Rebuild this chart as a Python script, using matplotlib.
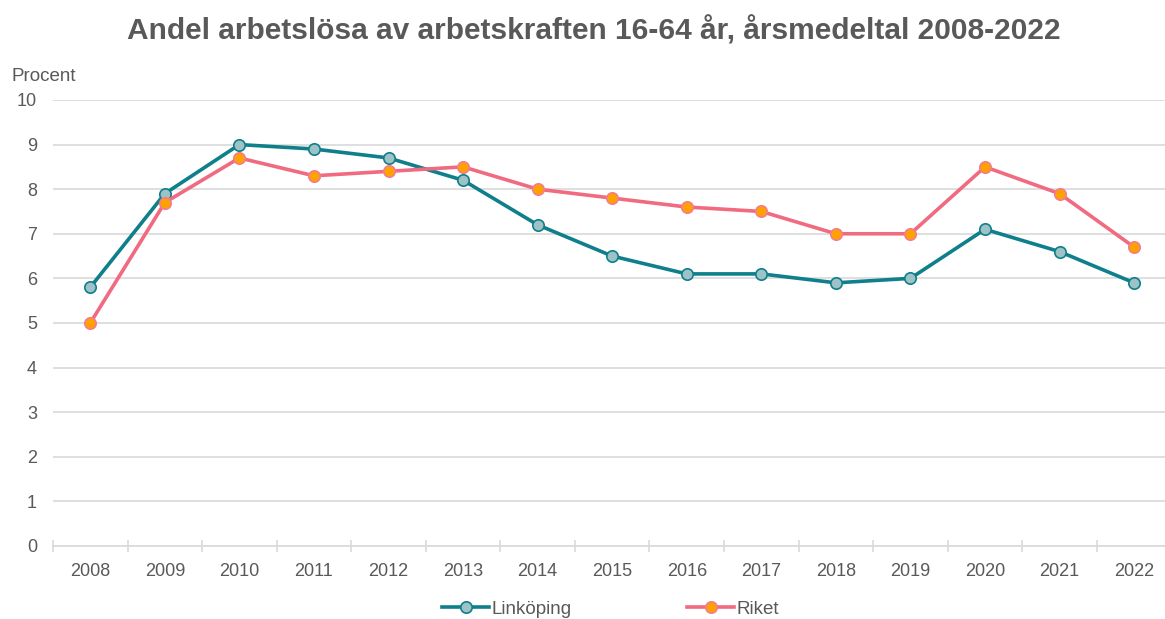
import numpy as np
import matplotlib.pyplot as plt
from matplotlib.ticker import MultipleLocator, FixedLocator

plt.rcParams['font.family'] = ['Liberation Sans', 'DejaVu Sans']

# Data
years = ['2008', '2009', '2010', '2011', '2012', '2013', '2014', '2015',
         '2016', '2017', '2018', '2019', '2020', '2021', '2022']
linkoping = [5.8, 7.9, 9.0, 8.9, 8.7, 8.2, 7.2, 6.5, 6.1, 6.1, 5.9, 6.0, 7.1, 6.6, 5.9]
riket = [5.0, 7.7, 8.7, 8.3, 8.4, 8.5, 8.0, 7.8, 7.6, 7.5, 7.0, 7.0, 8.5, 7.9, 6.7]

txt = '#595959'
grid = '#D9D9D9'

fig = plt.figure(figsize=(11.65, 6.19), dpi=100)
ax = fig.add_axes([0.0455, 0.118, 0.96, 0.7205])

x = np.arange(len(years))
ax.plot(x, linkoping, color='#0E7F8B', lw=2.6, marker='o', ms=8.2,
        mfc='#9DC3C7', mec='#0E7F8B', mew=1.2, label='Linköping', zorder=3)
ax.plot(x, riket, color='#F06A80', lw=2.6, marker='o', ms=8.2,
        mfc='#FFA200', mec='#F27D8E', mew=1.2, label='Riket', zorder=3)

ax.set_xlim(-0.5, len(years) - 0.5)
ax.set_ylim(0, 10)
ax.yaxis.set_major_locator(MultipleLocator(1))
ax.grid(axis='y', color=grid, lw=1.2)
ax.set_axisbelow(True)
for s in ['top', 'right', 'left']:
    ax.spines[s].set_visible(False)
ax.spines['bottom'].set_color(grid)
ax.spines['bottom'].set_linewidth(1.2)

ax.set_xticks(x)
ax.set_xticklabels(years)
ax.xaxis.set_minor_locator(FixedLocator(np.arange(-0.5, len(years), 1.0)))
ax.tick_params(axis='x', which='major', length=0, pad=12, labelsize=13, labelcolor=txt)
ax.tick_params(axis='x', which='minor', direction='inout', length=9, width=1.2, color=grid)
ax.tick_params(axis='y', length=0, pad=11.5, labelsize=13, labelcolor=txt)

fig.text(0.0103, 0.862, 'Procent', fontsize=13.5, color=txt, ha='left', va='bottom')
fig.text(0.510, 0.950, 'Andel arbetslösa av arbetskraften 16-64 år, årsmedeltal 2008-2022',
         fontsize=21.5, fontweight='bold', color=txt, ha='center', va='center')

leg = fig.legend(loc='center', bbox_to_anchor=(0.524, 0.016), ncol=2, frameon=False,
                 fontsize=13.5, handlelength=2.5, handletextpad=0.1, columnspacing=6.2,
                 labelcolor=txt)

fig.savefig('out.png', dpi=100)
